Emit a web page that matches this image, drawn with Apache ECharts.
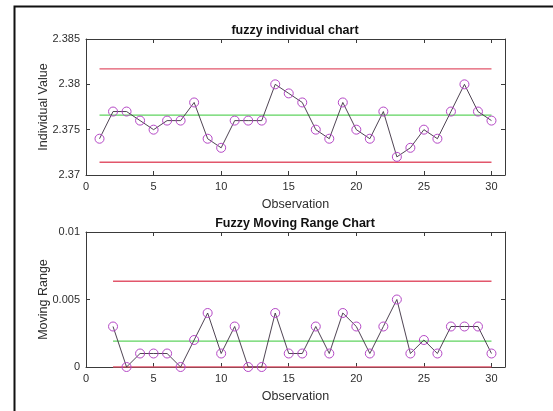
<!DOCTYPE html>
<html>
<head>
<meta charset="utf-8">
<script src="https://cdn.jsdelivr.net/npm/echarts@6/dist/echarts.min.js"></script>
<style>
  html, body { margin: 0; padding: 0; background: #fff; }
  #chart { width: 553px; height: 411px; }
</style>
</head>
<body>
<div id="chart"></div>
<script>
// Individual observations (X chart)
const observations = [1, 2, 3, 4, 5, 6, 7, 8, 9, 10, 11, 12, 13, 14, 15,
                      16, 17, 18, 19, 20, 21, 22, 23, 24, 25, 26, 27, 28, 29, 30];
const individualValues = [2.374, 2.377, 2.377, 2.376, 2.375, 2.376, 2.376, 2.378, 2.374, 2.373,
                          2.376, 2.376, 2.376, 2.380, 2.379, 2.378, 2.375, 2.374, 2.378, 2.375,
                          2.374, 2.377, 2.372, 2.373, 2.375, 2.374, 2.377, 2.380, 2.377, 2.376];
// Control limits of the individual chart: [UCL, CL, LCL]
const individualLimits = [2.3817, 2.3766, 2.3714];

// Moving ranges (MR chart), starting at the second observation
const mrObservations = [2, 3, 4, 5, 6, 7, 8, 9, 10, 11, 12, 13, 14, 15,
                        16, 17, 18, 19, 20, 21, 22, 23, 24, 25, 26, 27, 28, 29, 30];
const movingRanges = [0.003, 0.000, 0.001, 0.001, 0.001, 0.000, 0.002, 0.004, 0.001, 0.003,
                      0.000, 0.000, 0.004, 0.001, 0.001, 0.003, 0.001, 0.004, 0.003, 0.001,
                      0.003, 0.005, 0.001, 0.002, 0.001, 0.003, 0.003, 0.003, 0.001];
// Control limits of the moving range chart: [UCL, CL, LCL]
const mrLimits = [0.00635, 0.00192, 0];

// Axis ticks
const xTicks = [0, 5, 10, 15, 20, 25, 30];
const individualTicks = [2.37, 2.375, 2.38, 2.385];
const mrTicks = [0, 0.005, 0.01];

const FONT = '"Liberation Sans", Arial, Helvetica, sans-serif';
const AXIS_COLOR = '#3a3a3a';
const TEXT_COLOR = '#2e2e2e';
const LIMIT_RED = '#e2566b';
const CENTER_GREEN = '#5fd35f';
const MARKER_COLOR = '#b548c6';
const LINE_COLOR = '#3b2f3f';

const grids = [
  { left: 86, top: 39, width: 419, height: 136 },
  { left: 86, top: 232, width: 419, height: 135 }
];

function fmt(v) { return String(+(+v).toFixed(3)); }

function xAxisFor(gridIndex, position) {
  const primary = position === 'bottom';
  return {
    type: 'value', gridIndex, position, min: 0, max: 31,
    name: primary ? 'Observation' : '',
    nameLocation: 'middle', nameGap: 23, nameMoveOverlap: false,
    nameTextStyle: { fontSize: 12.5, color: TEXT_COLOR, fontFamily: FONT },
    axisLine: { show: true, onZero: false, lineStyle: { color: AXIS_COLOR, width: 1 } },
    axisTick: { show: true, inside: true, length: 4, customValues: xTicks, lineStyle: { color: AXIS_COLOR } },
    axisLabel: { show: primary, customValues: xTicks, margin: 6, fontSize: 11, color: TEXT_COLOR, fontFamily: FONT },
    splitLine: { show: false }
  };
}

function yAxisFor(gridIndex, position, min, max, ticks, name) {
  const primary = position === 'left';
  return {
    type: 'value', gridIndex, position, min, max,
    name: primary ? name : '',
    nameLocation: 'middle', nameGap: 36, nameMoveOverlap: false,
    nameTextStyle: { fontSize: 12.5, color: TEXT_COLOR, fontFamily: FONT },
    axisLine: { show: true, onZero: false, lineStyle: { color: AXIS_COLOR, width: 1 } },
    axisTick: { show: true, inside: true, length: 4, customValues: ticks, lineStyle: { color: AXIS_COLOR } },
    axisLabel: { show: primary, customValues: ticks, margin: 6, fontSize: 11, color: TEXT_COLOR, fontFamily: FONT, formatter: fmt },
    splitLine: { show: false }
  };
}

function limitLine(xAxisIndex, yAxisIndex, xs, value, color) {
  return {
    type: 'line', xAxisIndex, yAxisIndex, silent: true, symbol: 'none',
    lineStyle: { color, width: 1.4 },
    data: [[xs[0], value], [xs[xs.length - 1], value]],
    z: 2
  };
}

function dataSeries(xAxisIndex, yAxisIndex, xs, ys) {
  return {
    type: 'line', xAxisIndex, yAxisIndex, silent: true,
    symbol: 'circle', symbolSize: 9,
    itemStyle: { color: 'rgba(0,0,0,0)', borderColor: MARKER_COLOR, borderWidth: 1 },
    lineStyle: { color: LINE_COLOR, width: 0.9 },
    data: xs.map((x, i) => [x, ys[i]]),
    z: 5
  };
}

const chart = echarts.init(document.getElementById('chart'), null, { renderer: 'canvas' });

chart.setOption({
  animation: false,
  backgroundColor: '#ffffff',
  grid: grids,
  xAxis: [
    xAxisFor(0, 'bottom'), xAxisFor(0, 'top'),
    xAxisFor(1, 'bottom'), xAxisFor(1, 'top')
  ],
  yAxis: [
    yAxisFor(0, 'left', 2.37, 2.385, individualTicks, 'Individual Value'),
    yAxisFor(0, 'right', 2.37, 2.385, individualTicks, ''),
    yAxisFor(1, 'left', 0, 0.01, mrTicks, 'Moving Range'),
    yAxisFor(1, 'right', 0, 0.01, mrTicks, '')
  ],
  series: [
    limitLine(0, 0, observations, individualLimits[0], LIMIT_RED),
    limitLine(0, 0, observations, individualLimits[1], CENTER_GREEN),
    limitLine(0, 0, observations, individualLimits[2], LIMIT_RED),
    dataSeries(0, 0, observations, individualValues),
    limitLine(2, 2, mrObservations, mrLimits[0], LIMIT_RED),
    limitLine(2, 2, mrObservations, mrLimits[1], CENTER_GREEN),
    limitLine(2, 2, mrObservations, mrLimits[2], LIMIT_RED),
    dataSeries(2, 2, mrObservations, movingRanges)
  ],
  graphic: [
    {
      type: 'rect', silent: true,
      shape: { x: 14.5, y: 6.5, width: 800, height: 800 },
      style: { fill: 'none', stroke: '#111', lineWidth: 2 }
    },
    {
      type: 'text', x: 295, y: 31, silent: true,
      style: { text: 'fuzzy individual chart', font: 'bold 12.5px ' + FONT, fill: '#111', align: 'center', verticalAlign: 'middle' }
    },
    {
      type: 'text', x: 295, y: 224, silent: true,
      style: { text: 'Fuzzy Moving Range Chart', font: 'bold 12.5px ' + FONT, fill: '#111', align: 'center', verticalAlign: 'middle' }
    }
  ]
});
</script>
</body>
</html>
